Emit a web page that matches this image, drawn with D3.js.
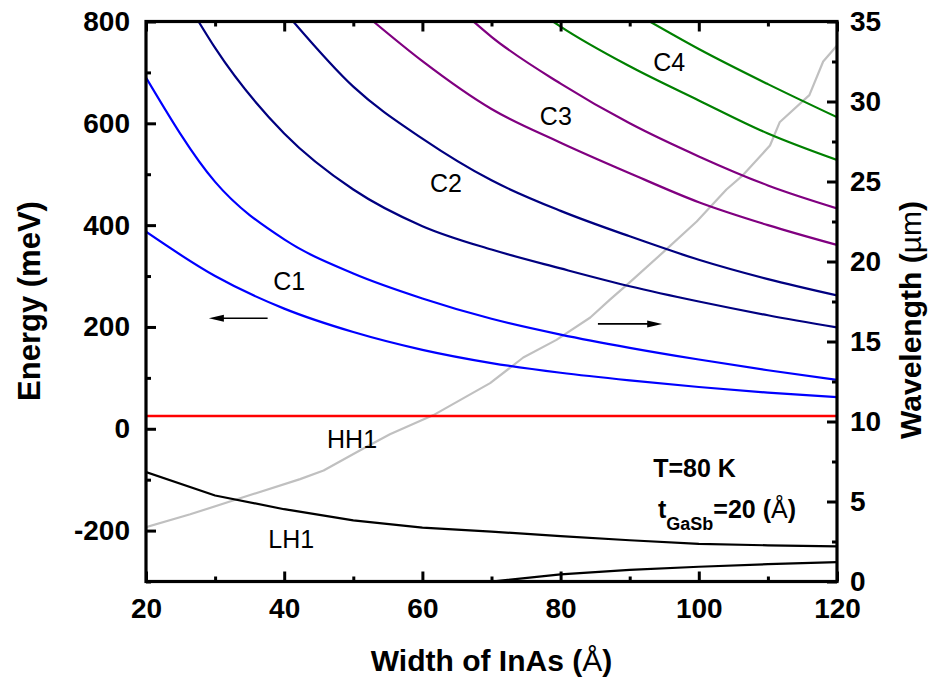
<!DOCTYPE html>
<html><head><meta charset="utf-8">
<script src="https://cdn.jsdelivr.net/npm/d3@7"></script>
<style>
html,body{margin:0;padding:0;background:#fff;}
svg{display:block;font-family:"Liberation Sans",Arial,sans-serif;}
</style></head>
<body>
<svg id="chart" width="930" height="683"></svg>
<script>
// ---------- data ----------
const widths = [20, 30, 40, 50, 60, 70, 80, 90, 100, 110, 120];           // InAs width (Å)
const c1Lower = [387, 300, 236, 190, 155, 129, 110, 95, 82, 71, 62];       // meV
const c1Upper = [690, 485, 372, 305, 256, 216, 185, 159, 136, 115, 96];
const c2LowerX = [27.6, 30, 40, 50, 60, 70, 80, 90, 100, 110, 120];
const c2Lower  = [800, 748, 580, 470, 398, 352, 315, 280, 250, 223, 199];
const c2UpperX = [41.3, 50, 60, 70, 80, 90, 100, 110, 120];
const c2Upper  = [800, 672, 570, 488, 428, 378, 332, 294, 262];
const c3LowerX = [52.9, 60, 70, 80, 90, 100, 110, 120];
const c3Lower  = [800, 722, 628, 562, 502, 445, 400, 361];
const c3UpperX = [67.4, 70, 80, 90, 100, 110, 120];
const c3Upper  = [800, 770, 678, 600, 535, 478, 433];
const c4LowerX = [78.9, 80, 90, 100, 110, 120];
const c4Lower  = [800, 790, 712, 645, 580, 528];
const c4UpperX = [92.9, 100, 110, 120];
const c4Upper  = [800, 746, 677, 612];
const hh1 = [25, 25, 25, 25, 25, 25, 25, 25, 25, 25, 25];
const lh1 = [-85, -131, -158, -180, -194, -202, -211, -219, -226, -229, -231];
const lh2X = [70, 80, 90, 100, 110, 120];
const lh2  = [-300, -286, -277, -271, -266, -262];
const wlX = [20, 26.4, 32.6, 42.3, 45.7, 51, 55.3, 61.6, 69.8, 74.6, 79.4, 84.3, 87.1, 90, 94.9, 99.7, 104, 106.4, 110.3, 111.7, 116, 118, 120];
const wl  = [3.4, 4.2, 5.06, 6.4, 6.94, 8.2, 9.2, 10.4, 12.4, 14.0, 15.1, 16.5, 17.6, 18.7, 20.6, 22.5, 24.5, 25.4, 27.25, 28.7, 30.4, 32.5, 33.5];

const xMajor = [20, 40, 60, 80, 100, 120];
const xMinor = [30, 50, 70, 90, 110];
const eMajor = [-200, 0, 200, 400, 600, 800];
const eMinor = [-300, -100, 100, 300, 500, 700];
const wMajor = [0, 5, 10, 15, 20, 25, 30, 35];
const wMinor = [2.5, 7.5, 12.5, 17.5, 22.5, 27.5, 32.5];

// ---------- layout ----------
const L = 146, R = 837, T = 21.5, B = 581.5;
const svg = d3.select("#chart");
const x = d3.scaleLinear().domain([20, 120]).range([L, R]);
const yE = d3.scaleLinear().domain([-300, 800]).range([B, T]);
const yW = d3.scaleLinear().domain([0, 35]).range([B, T]);

svg.append("clipPath").attr("id", "clip").append("rect")
  .attr("x", L).attr("y", T).attr("width", R - L).attr("height", B - T);

const plot = svg.append("g").attr("clip-path", "url(#clip)");

function series(xs, ys, yScale, color, curve, width) {
  const pts = xs.map((d, i) => [d, ys[i]]);
  plot.append("path").datum(pts)
    .attr("fill", "none").attr("stroke", color).attr("stroke-width", width || 2.2)
    .attr("stroke-linejoin", "round")
    .attr("d", d3.line().x(d => x(d[0])).y(d => yScale(d[1])).curve(curve || d3.curveMonotoneX));
}

series(wlX, wl, yW, "#c0c0c0", d3.curveLinear, 2.2);
series(widths, hh1, yE, "#ff0000", d3.curveLinear, 2.4);
series(widths, lh1, yE, "#000000", d3.curveLinear, 2.2);
series(lh2X, lh2, yE, "#000000", d3.curveLinear, 2.2);
series(widths, c1Lower, yE, "#0000ff");
series(widths, c1Upper, yE, "#0000ff");
series(c2LowerX, c2Lower, yE, "#000080");
series(c2UpperX, c2Upper, yE, "#000080");
series(c3LowerX, c3Lower, yE, "#800080");
series(c3UpperX, c3Upper, yE, "#800080");
series(c4LowerX, c4Lower, yE, "#008000");
series(c4UpperX, c4Upper, yE, "#008000");

// ---------- axes ----------
const tickFont = "28px";
const fmt = d => String(d);
function styleAxis(g, sw) {
  g.select(".domain").remove();
  g.selectAll(".tick line").attr("stroke", "#000").attr("stroke-width", sw);
  g.selectAll(".tick text").attr("font-size", tickFont).attr("font-weight", "bold")
    .attr("fill", "#000").attr("font-family", "Liberation Sans, Arial, sans-serif");
}
// bottom
svg.append("g").attr("transform", `translate(0,${B})`)
  .call(d3.axisBottom(x).tickValues(xMajor).tickSize(-10).tickPadding(16.5).tickFormat(fmt))
  .call(g => styleAxis(g, 3));
svg.append("g").attr("transform", `translate(0,${B})`)
  .call(d3.axisBottom(x).tickValues(xMinor).tickSize(-5).tickFormat(""))
  .call(g => styleAxis(g, 3));
// top
svg.append("g").attr("transform", `translate(0,${T})`)
  .call(d3.axisTop(x).tickValues(xMajor).tickSize(-10).tickFormat(""))
  .call(g => styleAxis(g, 3));
svg.append("g").attr("transform", `translate(0,${T})`)
  .call(d3.axisTop(x).tickValues(xMinor).tickSize(-5).tickFormat(""))
  .call(g => styleAxis(g, 3));
// left
svg.append("g").attr("transform", `translate(${L},0)`)
  .call(d3.axisLeft(yE).tickValues(eMajor).tickSize(-10).tickPadding(16).tickFormat(fmt))
  .call(g => styleAxis(g, 3));
svg.append("g").attr("transform", `translate(${L},0)`)
  .call(d3.axisLeft(yE).tickValues(eMinor).tickSize(-5).tickFormat(""))
  .call(g => styleAxis(g, 3));
// right
svg.append("g").attr("transform", `translate(${R},0)`)
  .call(d3.axisRight(yW).tickValues(wMajor).tickSize(-10).tickPadding(13).tickFormat(fmt))
  .call(g => styleAxis(g, 3));
svg.append("g").attr("transform", `translate(${R},0)`)
  .call(d3.axisRight(yW).tickValues(wMinor).tickSize(-5).tickFormat(""))
  .call(g => styleAxis(g, 3));

// frame
svg.append("rect").attr("x", L).attr("y", T).attr("width", R - L).attr("height", B - T)
  .attr("fill", "none").attr("stroke", "#000").attr("stroke-width", 3.2);

// ---------- titles ----------
const xt = svg.append("text").attr("x", (L + R) / 2).attr("y", 671)
  .attr("text-anchor", "middle").attr("font-size", "30px").attr("font-weight", "bold");
xt.append("tspan").text("Width of InAs (");
xt.append("tspan").attr("font-weight", "normal").text("Å");
xt.append("tspan").text(")");

svg.append("text").attr("transform", `translate(40,301) rotate(-90)`)
  .attr("text-anchor", "middle").attr("font-size", "31px").attr("font-weight", "bold")
  .text("Energy (meV)");

const rt = svg.append("text").attr("transform", `translate(921,320) rotate(-90)`)
  .attr("text-anchor", "middle").attr("font-size", "30px").attr("font-weight", "bold");
rt.append("tspan").text("Wavelength (");
rt.append("tspan").attr("font-weight", "normal").text("µm");
rt.append("tspan").text(")");

// ---------- annotations ----------
function label(txt, xv, ev) {
  svg.append("text").attr("x", x(xv)).attr("y", yE(ev))
    .attr("font-size", "25px").attr("fill", "#000").text(txt);
}
label("C1", 38.4, 272);
label("C2", 61.1, 465);
label("C3", 77.0, 596);
label("C4", 93.4, 703);
label("HH1", 46.2, -38);
label("LH1", 37.7, -235);

// arrows (in data units)
function arrow(x0, x1, ev) {
  const y = yE(ev), a = x(x0), b = x(x1);
  const dir = Math.sign(b - a);
  svg.append("line").attr("x1", a).attr("y1", y).attr("x2", b - dir * 12).attr("y2", y)
    .attr("stroke", "#000").attr("stroke-width", 1.6);
  svg.append("path").attr("d", `M${b},${y}L${b - dir * 15},${y - 3.5}L${b - dir * 15},${y + 3.5}Z`)
    .attr("fill", "#000");
}
arrow(37.6, 29.1, 217);
arrow(85.4, 94.7, 206);

svg.append("text").attr("x", x(93.4)).attr("y", 477)
  .attr("font-size", "25px").attr("font-weight", "bold").text("T=80 K");
const tg = svg.append("text").attr("x", x(94.1)).attr("y", 518)
  .attr("font-size", "25px").attr("font-weight", "bold");
tg.append("tspan").text("t");
tg.append("tspan").attr("font-size", "18px").attr("dy", 12).text("GaSb");
tg.append("tspan").attr("dy", -12).text("=20 (");
tg.append("tspan").attr("font-weight", "normal").text("Å");
tg.append("tspan").text(")");
</script>
</body></html>
